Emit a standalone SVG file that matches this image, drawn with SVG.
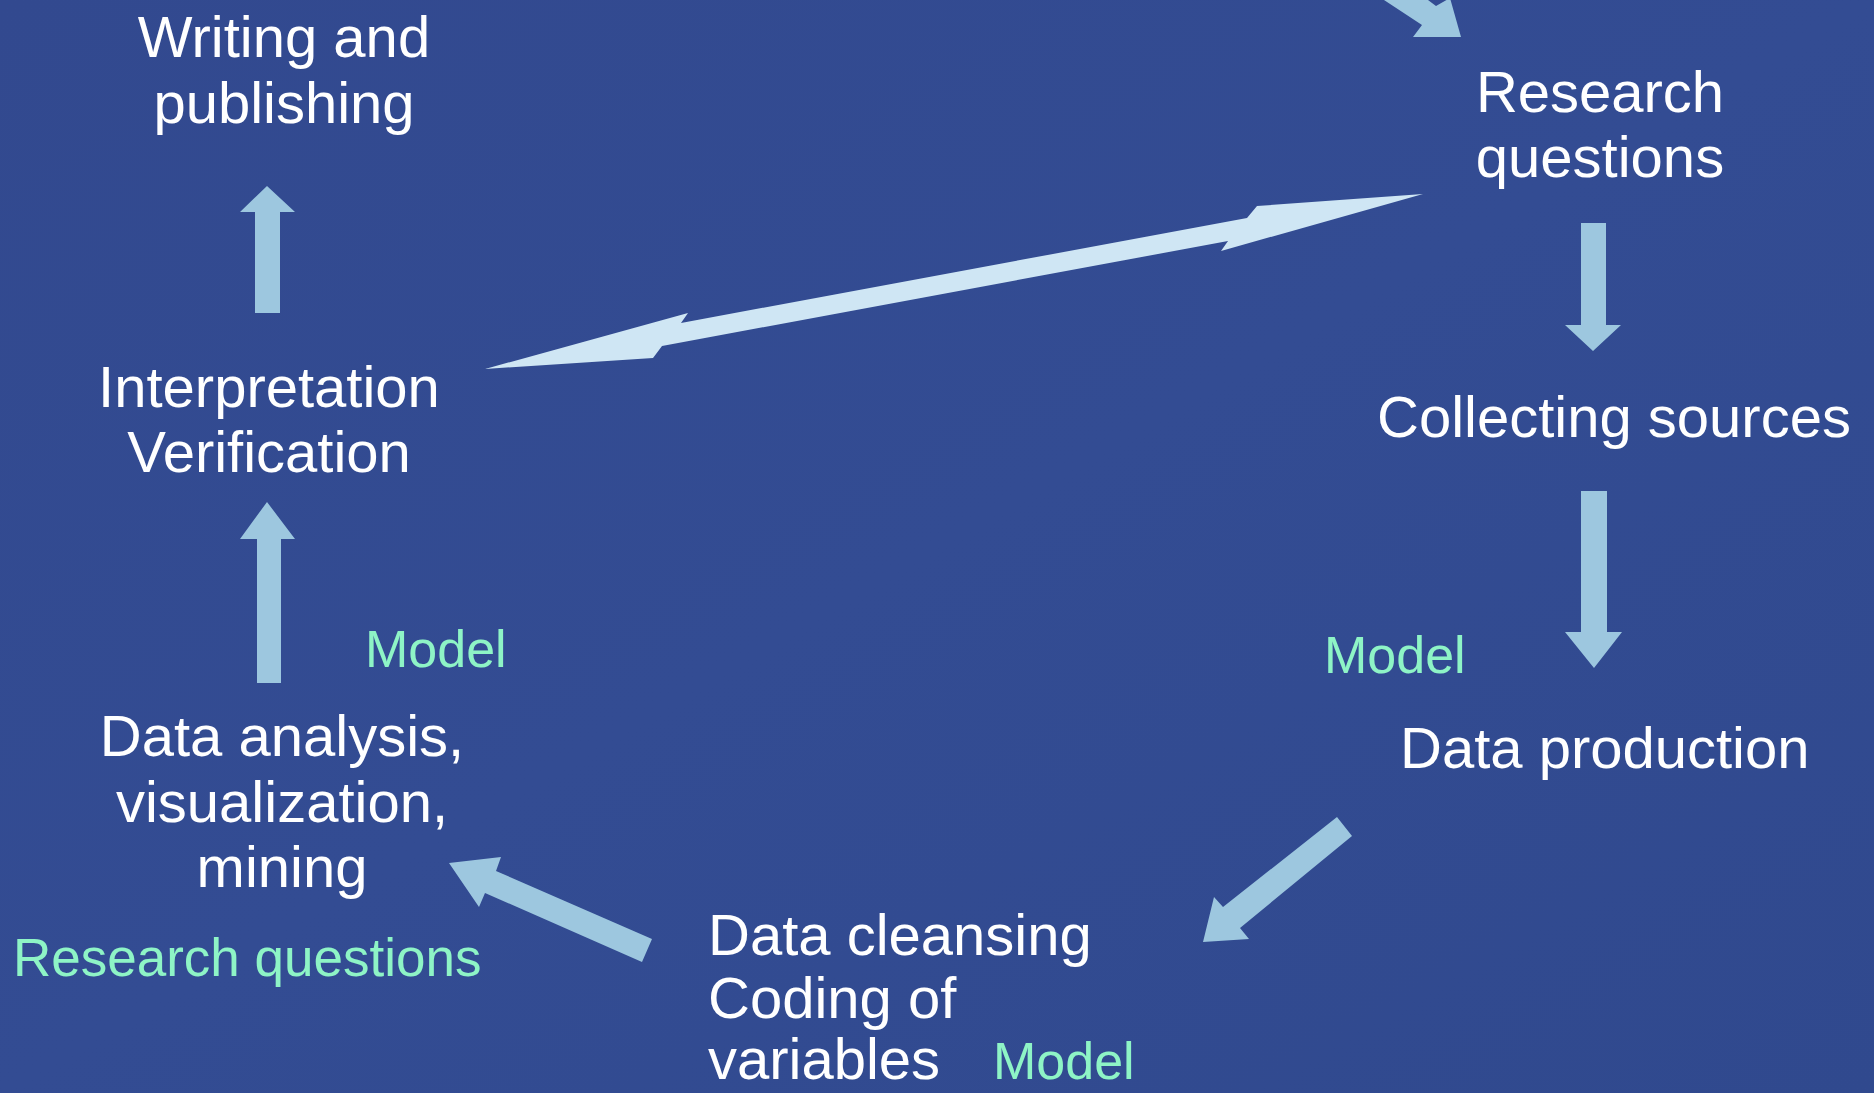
<svg xmlns="http://www.w3.org/2000/svg" width="1874" height="1093" viewBox="0 0 1874 1093">
  <defs>
    <style>
      .t { font-family: "Liberation Sans", Arial, sans-serif; font-size: 58px; fill: #ffffff; }
      .m { text-anchor: middle; }
      .g { font-family: "Liberation Sans", Arial, sans-serif; font-size: 52px; fill: #8ef4c6; }
      .arr { fill: #9dc7df; }
      .dbl { fill: #cfe6f4; }
    </style>
    <linearGradient id="bg" x1="0" y1="0" x2="1" y2="1">
      <stop offset="0" stop-color="#32498f"/>
      <stop offset="0.5" stop-color="#334c93"/>
      <stop offset="1" stop-color="#30498e"/>
    </linearGradient>
  </defs>
  <rect x="0" y="0" width="1874" height="1093" fill="url(#bg)"/>

  <g id="connectors">
    <polygon class="arr" points="1384,0 1422,25 1413,37 1461,37 1450,-2 1436,6 1428,0"/>
    <polygon class="arr" points="1581,223 1606,223 1606,325 1621,325 1593,351 1565,325 1581,325"/>
    <polygon class="arr" points="1581,491 1607,491 1607,632 1622,632 1594,668 1565,632 1581,632"/>
    <polygon class="arr" points="1337,817 1352,836 1240,928 1249,939 1203,942 1214,897 1223,907"/>
    <polygon class="arr" points="652,939 642,962 485,893 479,907 449,863 501,857 496,871"/>
    <polygon class="arr" points="257,683 281,683 281,539 295,539 267,502 240,539 257,539"/>
    <polygon class="arr" points="255,313 280,313 280,212 295,212 267,186 240,212 255,212"/>
    <polygon class="dbl" points="485,369 688,313 681,323 1247,218 1257,206 1423,194 1221,251 1228,241 662,346 653,358"/>
  </g>

  <g id="node-writing">
    <text class="t m" x="284" y="57">Writing and</text>
    <text class="t m" x="284" y="123">publishing</text>
  </g>
  <g id="node-research">
    <text class="t m" x="1600" y="112">Research</text>
    <text class="t m" x="1600" y="177">questions</text>
  </g>
  <g id="node-collecting">
    <text class="t" x="1377" y="437">Collecting sources</text>
  </g>
  <g id="node-production">
    <text class="t" x="1400" y="768">Data production</text>
  </g>
  <g id="node-cleansing">
    <text class="t" x="708" y="955">Data cleansing</text>
    <text class="t" x="708" y="1018">Coding of</text>
    <text class="t" x="708" y="1079">variables</text>
  </g>
  <g id="node-analysis">
    <text class="t m" x="282" y="756">Data analysis,</text>
    <text class="t m" x="282" y="822">visualization,</text>
    <text class="t m" x="282" y="887">mining</text>
  </g>
  <g id="node-interpretation">
    <text class="t m" x="269" y="407">Interpretation</text>
    <text class="t m" x="269" y="472">Verification</text>
  </g>
  <g id="labels">
    <text class="g" x="365" y="667">Model</text>
    <text class="g" x="1324" y="673">Model</text>
    <text class="g" x="993" y="1079">Model</text>
    <text class="g" x="13" y="976" style="font-size:53px">Research questions</text>
  </g>
</svg>
